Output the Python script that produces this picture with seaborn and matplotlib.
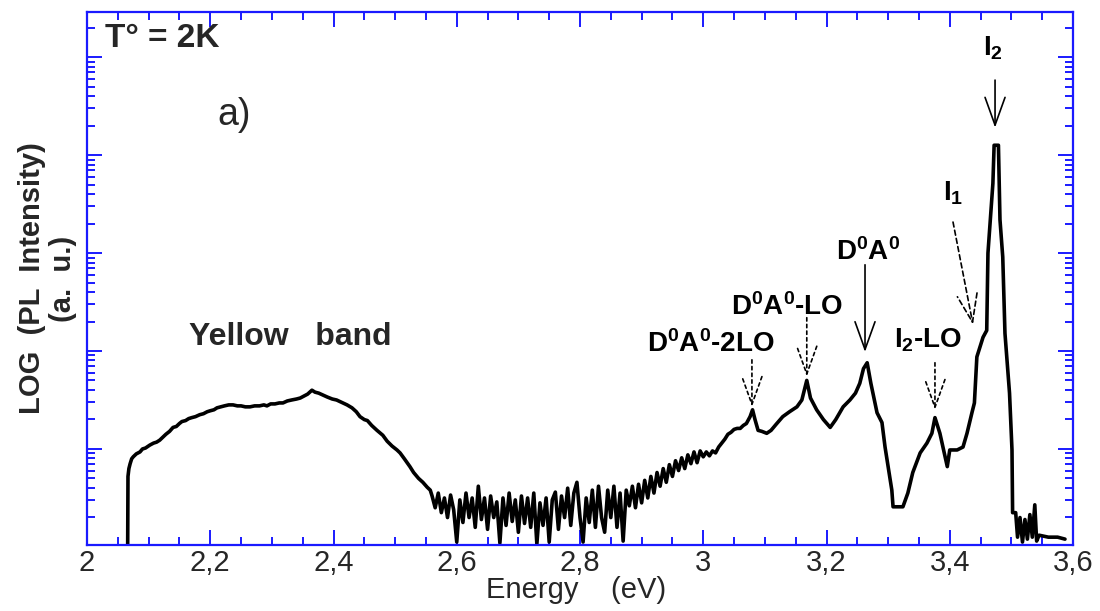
import matplotlib
matplotlib.use("Agg")
import numpy as np
import pandas as pd
import matplotlib.pyplot as plt
import seaborn as sns
from matplotlib.ticker import LogLocator, NullFormatter, MultipleLocator

# ---------------- data ----------------
# photon energy (eV)
energy = [
    2.0660, 2.0665, 2.0680, 2.0700, 2.0725, 2.0750, 2.0800, 2.0860, 2.0900, 2.0950,
    2.1020, 2.1080, 2.1130, 2.1180, 2.1230, 2.1280, 2.1340, 2.1396, 2.1450, 2.1500,
    2.1540, 2.1600, 2.1650, 2.1700, 2.1760, 2.1830, 2.1890, 2.1950, 2.2000, 2.2060,
    2.2110, 2.2170, 2.2230, 2.2300, 2.2370, 2.2440, 2.2500, 2.2570, 2.2645, 2.2720,
    2.2800, 2.2870, 2.2920, 2.2980, 2.3050, 2.3120, 2.3180, 2.3250, 2.3320, 2.3400,
    2.3460, 2.3520, 2.3580, 2.3650, 2.3700, 2.3760, 2.3830, 2.3900, 2.3980, 2.4050,
    2.4150, 2.4220, 2.4300, 2.4370, 2.4430, 2.4500, 2.4550, 2.4620, 2.4706, 2.4800,
    2.4870, 2.4950, 2.5030, 2.5080, 2.5150, 2.5240, 2.5300, 2.5380, 2.5450, 2.5520,
    2.5570,
    2.560, 2.565, 2.570, 2.575, 2.580, 2.585, 2.590, 2.595, 2.600, 2.605,
    2.610, 2.615, 2.620, 2.625, 2.630, 2.635, 2.640, 2.645, 2.650, 2.655,
    2.660, 2.665, 2.670, 2.675, 2.680, 2.685, 2.690, 2.695, 2.700, 2.705,
    2.710, 2.715, 2.720, 2.725, 2.730, 2.735, 2.740, 2.745, 2.750, 2.755,
    2.760, 2.765, 2.770, 2.775, 2.780, 2.785, 2.790, 2.795, 2.800, 2.805,
    2.810, 2.815, 2.820, 2.825, 2.830, 2.835, 2.840, 2.845, 2.850, 2.855,
    2.860, 2.865, 2.870, 2.875,
    2.880, 2.885, 2.890, 2.895, 2.900, 2.905, 2.910, 2.915, 2.920, 2.925,
    2.930, 2.935, 2.940, 2.945, 2.950, 2.955, 2.960, 2.965, 2.970, 2.975,
    2.980, 2.985, 2.990, 2.995, 3.000, 3.005, 3.010, 3.015, 3.020, 3.025,
    3.030, 3.035, 3.040, 3.045, 3.050, 3.055, 3.060, 3.065, 3.070, 3.076,
    3.080, 3.084, 3.089, 3.095, 3.103, 3.110, 3.118, 3.129, 3.140, 3.152,
    3.160, 3.168, 3.174, 3.184, 3.195, 3.206, 3.215, 3.227, 3.238, 3.247,
    3.254, 3.260, 3.266, 3.272, 3.282, 3.290, 3.295, 3.300, 3.306, 3.308,
    3.324, 3.332, 3.340, 3.352, 3.363, 3.371, 3.376, 3.384, 3.389, 3.396,
    3.400, 3.412, 3.4215, 3.428, 3.436, 3.440, 3.444, 3.454, 3.460, 3.462,
    3.470, 3.472, 3.479, 3.4815, 3.486, 3.4896, 3.497, 3.501, 3.502, 3.507,
    3.510, 3.514, 3.518, 3.522, 3.526, 3.530, 3.534, 3.538, 3.541, 3.545,
    3.560, 3.575, 3.587,
]

# LOG (PL intensity), decades (a. u.)
log_pl = [
    0.00, 0.72, 0.80, 0.85, 0.90, 0.92, 0.95, 0.97, 1.00, 1.01,
    1.04, 1.06, 1.07, 1.09, 1.12, 1.15, 1.18, 1.22, 1.23, 1.26,
    1.28, 1.29, 1.31, 1.32, 1.33, 1.35, 1.36, 1.38, 1.39, 1.40,
    1.42, 1.43, 1.44, 1.45, 1.45, 1.44, 1.44, 1.43, 1.43, 1.44,
    1.44, 1.45, 1.44, 1.46, 1.46, 1.47, 1.47, 1.49, 1.50, 1.51,
    1.52, 1.54, 1.56, 1.60, 1.58, 1.57, 1.55, 1.53, 1.51, 1.50,
    1.47, 1.45, 1.42, 1.38, 1.33, 1.30, 1.29, 1.24, 1.19, 1.14,
    1.08, 1.03, 0.99, 0.96, 0.90, 0.82, 0.76, 0.70, 0.66, 0.61,
    0.58,
    0.52, 0.40, 0.55, 0.35, 0.50, 0.30, 0.53, 0.38, 0.05, 0.48,
    0.25, 0.55, 0.30, 0.50, 0.20, 0.62, 0.28, 0.50, 0.18, 0.52,
    0.30, 0.46, 0.04, 0.50, 0.22, 0.55, 0.26, 0.48, 0.15, 0.52,
    0.24, 0.50, 0.20, 0.55, 0.03, 0.45, 0.22, 0.50, 0.05, 0.48,
    0.56, 0.18, 0.52, 0.30, 0.60, 0.22, 0.55, 0.66, 0.30, 0.05,
    0.50, 0.25, 0.58, 0.20, 0.62, 0.30, 0.15, 0.58, 0.30, 0.62,
    0.20, 0.55, 0.06, 0.58,
    0.42, 0.62, 0.40, 0.64, 0.45, 0.68, 0.50, 0.72, 0.55, 0.76,
    0.62, 0.80, 0.66, 0.84, 0.72, 0.88, 0.78, 0.91, 0.80, 0.94,
    0.85, 0.97, 0.86, 0.98, 0.92, 0.97, 0.93, 0.98, 0.96, 1.02,
    1.06, 1.10, 1.15, 1.17, 1.20, 1.21, 1.21, 1.24, 1.26, 1.33,
    1.40, 1.30, 1.19, 1.18, 1.16, 1.19, 1.25, 1.33, 1.38, 1.43,
    1.50, 1.70, 1.52, 1.40, 1.30, 1.22, 1.30, 1.43, 1.50, 1.57,
    1.67, 1.82, 1.88, 1.67, 1.37, 1.27, 1.02, 0.82, 0.58, 0.41,
    0.41, 0.55, 0.76, 0.96, 1.06, 1.16, 1.32, 1.16, 1.02, 0.82,
    0.99, 0.99, 1.02, 1.16, 1.37, 1.47, 1.94, 2.14, 2.21, 3.00,
    3.71, 4.10, 4.10, 3.34, 2.96, 2.18, 1.57, 0.99, 0.35, 0.35,
    0.10, 0.30, 0.05, 0.28, 0.08, 0.33, 0.10, 0.43, 0.06, 0.12,
    0.10, 0.10, 0.08,
]

xtick_values = [2.0, 2.2, 2.4, 2.6, 2.8, 3.0, 3.2, 3.4, 3.6]
xtick_labels = ["2", "2,2", "2,4", "2,6", "2,8", "3", "3,2", "3,4", "3,6"]

# ---------------- style ----------------
sns.set_style("ticks")
plt.rcParams["font.family"] = ["Liberation Sans", "DejaVu Sans"]
plt.rcParams["mathtext.fontset"] = "custom"
plt.rcParams["mathtext.rm"] = "Liberation Sans"
plt.rcParams["mathtext.it"] = "Liberation Sans"
plt.rcParams["mathtext.default"] = "regular"

AX_BLUE = "#1a1aff"

fig = plt.figure(figsize=(11, 6.11), dpi=100)
ax = fig.add_axes([87 / 1100, 1 - 545 / 611, (1073 - 87) / 1100, (545 - 12) / 611])

df = pd.DataFrame({"energy": energy, "intensity": 10 ** np.array(log_pl)})
sns.lineplot(data=df, x="energy", y="intensity", sort=False, estimator=None,
             color="black", linewidth=2.6, ax=ax)

ax.set_yscale("log")
ax.set_xlim(2.0, 3.6)
ax.set_ylim(10 ** 0.02, 10 ** 5.46)

ax.yaxis.set_major_locator(LogLocator(base=10, numticks=20))
ax.yaxis.set_minor_locator(LogLocator(base=10, subs=np.arange(2, 10) * 1.0, numticks=20))
ax.yaxis.set_major_formatter(NullFormatter())
ax.yaxis.set_minor_formatter(NullFormatter())

ax.set_xticks(xtick_values)
ax.set_xticklabels(xtick_labels, fontsize=21)
ax.xaxis.set_minor_locator(MultipleLocator(0.05))

ax.tick_params(which="both", direction="in", top=True, right=True,
               color=AX_BLUE, width=1.4, pad=3)
ax.tick_params(which="major", length=11)
ax.tick_params(which="minor", length=6)
for s in ax.spines.values():
    s.set_color(AX_BLUE)
    s.set_linewidth(1.6)

ax.set_xlabel("Energy    (eV)", fontsize=21)
ax.xaxis.set_label_coords(0.496, -0.058)
ax.set_ylabel("LOG  (PL  Intensity)\n(a.  u.)", fontsize=21, fontweight="bold",
              linespacing=1.15)
ax.yaxis.set_label_coords(-0.01, 0.5)

# ---------------- annotations ----------------
def arrow(tail, tip, ls="-"):
    ax.annotate("", xy=(tip[0], 10 ** tip[1]), xytext=(tail[0], 10 ** tail[1]),
                arrowprops=dict(arrowstyle="->,head_length=1.0,head_width=0.36",
                                lw=1.2, ls=ls, color="black", mutation_scale=20,
                                shrinkA=0, shrinkB=0))

dotted = (0, (2, 2))
arrow((3.079, 1.91), (3.079, 1.43), dotted)
arrow((3.168, 2.34), (3.168, 1.74), dotted)
arrow((3.2625, 2.88), (3.2625, 1.99), "-")
arrow((3.376, 1.88), (3.376, 1.40), dotted)
arrow((3.4053, 3.316), (3.4377, 2.27), (0, (3, 2)))
arrow((3.4735, 4.765), (3.4735, 4.28), "-")

def label(x, L, s, ha="center"):
    ax.text(x, 10 ** L, s, ha=ha, va="baseline", fontsize=20, color="black",
            fontweight="bold")

label(3.0128, 1.99, r"D$^0$A$^0$-2LO")
label(3.136, 2.367, r"D$^0$A$^0$-LO")
label(3.267, 2.93, r"D$^0$A$^0$")
label(3.365, 2.04, r"I$_2$-LO")
label(3.389, 3.54, r"I$_1$", ha="left")
label(3.454, 5.02, r"I$_2$", ha="left")
ax.text(2.3294, 10 ** 2.06, "Yellow   band", ha="center", va="baseline",
        fontsize=23, fontweight="bold")

ax.text(0.018, 0.934, "T° = 2K", transform=ax.transAxes, ha="left",
        va="baseline", fontsize=24, fontweight="bold")
ax.text(0.132, 0.788, "a)", transform=ax.transAxes, ha="left",
        va="baseline", fontsize=27)

fig.savefig("out.png", dpi=100, facecolor="white")
